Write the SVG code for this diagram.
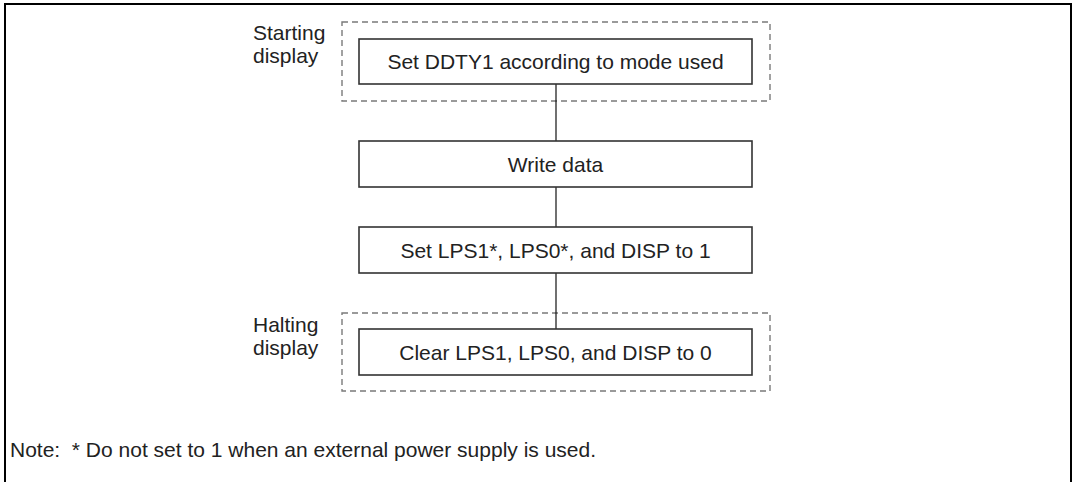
<svg xmlns="http://www.w3.org/2000/svg" width="1074" height="482" viewBox="0 0 1074 482">
<style>
.t{font-family:"Liberation Sans",Arial,sans-serif;font-size:21px;fill:#222}
.c{text-anchor:middle}
.box{fill:#fff;stroke:#333;stroke-width:1.6}
.grp{fill:none;stroke:#7a7a7a;stroke-width:1.4;stroke-dasharray:6,4}
.ln{stroke:#111;stroke-width:1.2;fill:none}
</style>
<rect width="1074" height="482" fill="#fff"/>
<path d="M5,484 V4 H1071 V484" fill="none" stroke="#000" stroke-width="2"/>
<g id="grp-start">
<rect class="grp" x="342" y="22" width="428" height="79"/>
<text class="t" x="253" y="40">Starting</text>
<text class="t" x="253" y="63">display</text>
</g>
<g id="grp-halt">
<rect class="grp" x="342" y="313" width="428" height="78"/>
<text class="t" x="253" y="332">Halting</text>
<text class="t" x="253" y="355">display</text>
</g>
<g id="connectors">
<line class="ln" x1="556" y1="84" x2="556" y2="141"/>
<line class="ln" x1="556" y1="187" x2="556" y2="227"/>
<line class="ln" x1="556" y1="273" x2="556" y2="329"/>
</g>
<g id="n1">
<rect class="box" x="359" y="39" width="393" height="45"/>
<text class="t c" x="555.5" y="69">Set DDTY1 according to mode used</text>
</g>
<g id="n2">
<rect class="box" x="359" y="141" width="393" height="46"/>
<text class="t c" x="555.5" y="172">Write data</text>
</g>
<g id="n3">
<rect class="box" x="359" y="227" width="393" height="46"/>
<text class="t c" x="555.5" y="258">Set LPS1*, LPS0*, and DISP to 1</text>
</g>
<g id="n4">
<rect class="box" x="359" y="329" width="393" height="46"/>
<text class="t c" x="555.5" y="360">Clear LPS1, LPS0, and DISP to 0</text>
</g>
<text class="t" x="10" y="457" xml:space="preserve">Note:  * Do not set to 1 when an external power supply is used.</text>
</svg>
